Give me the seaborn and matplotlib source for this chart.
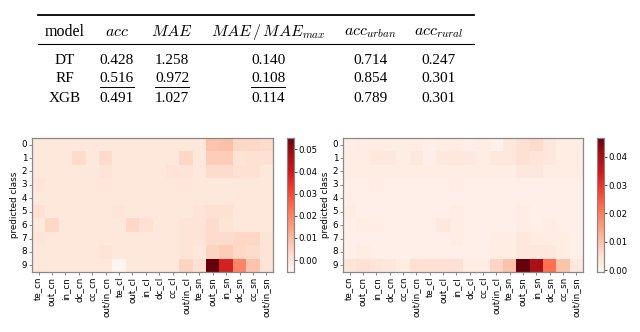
import matplotlib
matplotlib.use("Agg")
import matplotlib.pyplot as plt
import numpy as np
import pandas as pd
import seaborn as sns
from matplotlib.lines import Line2D
import matplotlib.ticker as mticker

# ── table data ────────────────────────────────────────────────
models = ["DT", "RF", "XGB"]
acc = [0.428, 0.516, 0.491]
mae = [1.258, 0.972, 1.027]
mae_ratio = [0.140, 0.108, 0.114]
acc_urban = [0.714, 0.854, 0.789]
acc_rural = [0.247, 0.301, 0.301]
best_model = "RF"          # underlined in acc, MAE, MAE/MAEmax
headers = ["model", "$acc$", "$MAE$", "$MAE\\,/\\,MAE_{max}$",
           "$acc_{urban}$", "$acc_{rural}$"]

# ── heatmap data ──────────────────────────────────────────────
features = ["te_cn", "out_cn", "in_cn", "dc_cn", "cc_cn", "out/in_cn",
            "te_cl", "out_cl", "in_cl", "dc_cl", "cc_cl", "out/in_cl",
            "te_sn", "out_sn", "in_sn", "dc_sn", "cc_sn", "out/in_sn"]
classes = [0, 1, 2, 3, 4, 5, 6, 7, 8, 9]

lime = [
    [0, 0, 0, 0, 0, 0, 0, 0, 0, 0, 0, 0, 0, .008, .009, .004, .004, .003],
    [0, 0, 0, .003, 0, .003, 0, 0, 0, 0, 0, .004, 0, .006, .006, .001, .002, .002],
    [0, 0, 0, 0, 0, .001, 0, 0, 0, 0, .001, .001, 0, .003, .003, .002, .002, 0],
    [.0005, 0, 0, 0, 0, 0, 0, 0, 0, 0, 0, 0, 0, 0, 0, 0, 0, 0],
    [0, 0, 0, 0, 0, 0, 0, 0, 0, 0, 0, 0, 0, 0, 0, 0, 0, 0],
    [.002, 0, 0, 0, 0, 0, .0005, 0, 0, 0, 0, 0, .001, .002, .002, 0, 0, 0],
    [0, .004, 0, 0, 0, 0, 0, .004, .002, 0, 0, .001, .001, .003, .001, 0, 0, 0],
    [.0005, 0, 0, 0, 0, 0, 0, 0, 0, 0, 0, .001, .001, .003, .003, .004, .004, .001],
    [0, 0, 0, 0, 0, .001, 0, 0, 0, 0, 0, .001, 0, .005, .006, .004, .003, .001],
    [0, 0, 0, 0, 0, 0, -.005, 0, 0, 0, 0, .005, .002, .055, .038, .020, .008, .001],
]

shap = [
    [.001, .002, .002, .002, .002, .002, .001, .002, .002, .001, .002, .0005, .003, .005, .006, .003, .002, .002],
    [.002, .002, .003, .003, .002, .003, .001, .003, .003, .003, .002, .003, .003, .005, .004, .003, .002, .002],
    [.002, .002, .002, .002, .002, .002, .002, .002, .002, .002, .002, .002, .002, .003, .003, .002, .002, .002],
    [.001, .001, .002, .001, .001, .001, .001, .001, .002, .001, .001, .001, .001, .001, .001, .001, .001, .001],
    [.001, .001, .001, .001, .001, .001, .001, .001, .001, .001, .001, .001, .001, .001, .001, .001, .001, .001],
    [.002, .001, .001, .001, .001, .001, .001, .001, .002, .001, .001, .001, .001, .002, .001, .001, .001, .001],
    [.001, .002, .002, .001, .001, .001, .001, .003, .002, .001, .001, .001, .001, .002, .001, .002, .001, .001],
    [.001, .001, .001, .001, .001, .001, .001, .001, .002, .001, .001, .002, .002, .003, .002, .002, .002, .001],
    [.001, .002, .001, .001, .001, .001, .001, .001, .001, .001, .001, .002, .002, .003, .003, .003, .002, .001],
    [.004, .005, .004, .003, .002, .005, .005, .005, .005, .002, .002, .007, .010, .047, .040, .022, .010, .003],
]

W, H = 640, 332
plt.rcParams.update({
    "font.family": "DejaVu Sans",
    "mathtext.fontset": "cm",
})

fig = plt.figure(figsize=(W / 100, H / 100), dpi=100)


def px(x, y):
    """pixel coords (top-left origin) -> figure fraction."""
    return x / W, 1 - y / H


# ── booktabs style table ──────────────────────────────────────
col_x = [65, 117, 172, 268, 370, 439]
row_y = [60, 79, 98]
serif = "Liberation Serif"

for x, h in zip(col_x, headers):
    fig.text(*px(x, 32), h, ha="center", va="center", fontsize=11.5, family=serif)

columns = [models, acc, mae, mae_ratio, acc_urban, acc_rural]
texts = {}
for ci, (x, col) in enumerate(zip(col_x, columns)):
    for ri, (y, v) in enumerate(zip(row_y, col)):
        s = v if isinstance(v, str) else f"{v:.3f}"
        texts[(ri, ci)] = fig.text(*px(x, y), s, ha="center", va="center",
                                   fontsize=11, family=serif)

x0, x1 = px(38, 0)[0], px(474, 0)[0]
fig.add_artist(Line2D([x0, x1], [px(0, 15)[1]] * 2, color="black", lw=1.3))
fig.add_artist(Line2D([x0, x1], [px(0, 44)[1]] * 2, color="black", lw=0.8))

renderer = fig.canvas.get_renderer()
ri = models.index(best_model)
for ci in (1, 2, 3):
    bb = texts[(ri, ci)].get_window_extent(renderer)
    yy = px(0, 87)[1]
    fig.add_artist(Line2D([bb.x0 / W, bb.x1 / W], [yy, yy], color="black", lw=0.7))

# ── heatmaps ──────────────────────────────────────────────────
panels = [
    (lime, (32, 273), (287, 294), -0.0054, 0.0552, [0.00, 0.01, 0.02, 0.03, 0.04, 0.05]),
    (shap, (343, 583), (597, 604), -0.0007, 0.0467, [0.00, 0.01, 0.02, 0.03, 0.04]),
]
top, bottom = 138, 272
for data, (ax_l, ax_r), (cb_l, cb_r), vmin, vmax, cticks in panels:
    l, b = px(ax_l, bottom)
    ax = fig.add_axes([l, b, (ax_r - ax_l) / W, (bottom - top) / H])
    cl, _ = px(cb_l, bottom)
    cax = fig.add_axes([cl, b, (cb_r - cb_l) / W, (bottom - top) / H])
    df = pd.DataFrame(data, index=classes, columns=features)
    sns.heatmap(df, ax=ax, cbar_ax=cax, cmap="Reds", vmin=vmin, vmax=vmax,
                xticklabels=features, yticklabels=classes)
    ax.set_ylabel("predicted class", fontsize=6.3, labelpad=1.5)
    ax.set_xlabel("")
    ax.tick_params(axis="both", labelsize=6.3, length=2, width=0.5,
                   color="#555555", pad=1.5)
    ax.tick_params(axis="y", rotation=0)
    ax.tick_params(axis="x", rotation=90)
    for sp in ax.spines.values():
        sp.set_visible(True)
        sp.set_color("#888888")
        sp.set_linewidth(0.9)
    cax.set_yticks(cticks)
    cax.yaxis.set_major_formatter(mticker.FormatStrFormatter("%.2f"))
    cax.tick_params(labelsize=6.2, length=2, width=0.5, pad=1)
    for sp in cax.spines.values():
        sp.set_visible(True)
        sp.set_color("#888888")
        sp.set_linewidth(0.8)

fig.savefig("out.png", dpi=100)
